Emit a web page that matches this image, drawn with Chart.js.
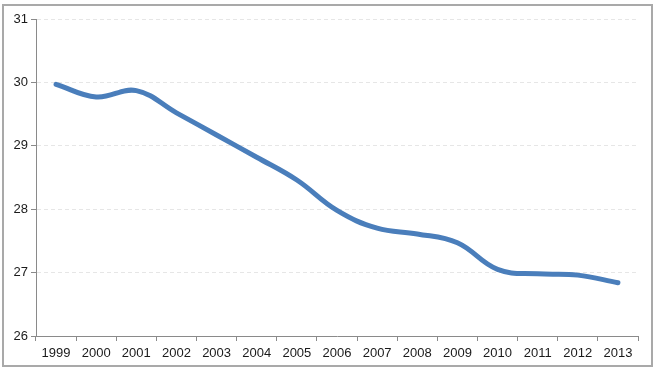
<!DOCTYPE html>
<html>
<head>
<meta charset="utf-8">
<script src="https://cdn.jsdelivr.net/npm/chart.js@4"></script>
<style>
  html, body { margin: 0; padding: 0; background: #ffffff; }
  #wrap { position: relative; width: 655px; height: 372px; }
</style>
</head>
<body>
<div id="wrap"><canvas id="c" width="655" height="372"></canvas></div>
<script>
const years = ['1999','2000','2001','2002','2003','2004','2005','2006','2007','2008','2009','2010','2011','2012','2013'];
const values = [29.97, 29.77, 29.87, 29.52, 29.17, 28.82, 28.46, 27.98, 27.70, 27.61, 27.47, 27.05, 26.98, 26.96, 26.84];
const yTicks = [26, 27, 28, 29, 30, 31];

const framePlugin = {
  id: 'frame',
  afterDraw(chart) {
    const ctx = chart.ctx;
    ctx.save();
    ctx.strokeStyle = '#a9a9a9';
    ctx.lineWidth = 2;
    ctx.strokeRect(3, 5, 649, 361);
    ctx.restore();
  }
};

new Chart(document.getElementById('c'), {
  type: 'line',
  data: {
    labels: years,
    datasets: [{
      data: values,
      borderColor: '#4a7ebb',
      borderWidth: 5,
      tension: 0.4,
      pointRadius: 0,
      borderCapStyle: 'round',
      borderJoinStyle: 'round',
      fill: false
    }]
  },
  options: {
    responsive: false,
    animation: false,
    devicePixelRatio: 1,
    layout: { padding: { top: 19, right: 17, bottom: 0, left: 0 } },
    plugins: { legend: { display: false }, tooltip: { enabled: false } },
    scales: {
      x: {
        type: 'category',
        offset: true,
        grid: { offset: true, drawOnChartArea: false, drawTicks: true, tickLength: 5, tickColor: '#8a8a8a' },
        border: { display: true, color: '#8a8a8a', width: 1 },
        ticks: { color: '#1a1a1a', font: { family: 'Liberation Sans, Arial, sans-serif', size: 13 }, padding: 5, maxRotation: 0, autoSkip: false },
        afterFit(scale) { scale.height = 36; }
      },
      y: {
        min: yTicks[0],
        max: yTicks[yTicks.length - 1],
        afterBuildTicks(scale) { scale.ticks = yTicks.map(v => ({ value: v })); },
        grid: { color: '#e6e6e6', lineWidth: 1, drawTicks: true, tickLength: 5, tickColor: '#8a8a8a' },
        border: { display: true, color: '#8a8a8a', width: 1, dash: [4, 3] },
        ticks: { color: '#1a1a1a', font: { family: 'Liberation Sans, Arial, sans-serif', size: 13 }, padding: 3 },
        afterFit(scale) { scale.width = 36; }
      }
    }
  },
  plugins: [framePlugin]
});
</script>
</body>
</html>
